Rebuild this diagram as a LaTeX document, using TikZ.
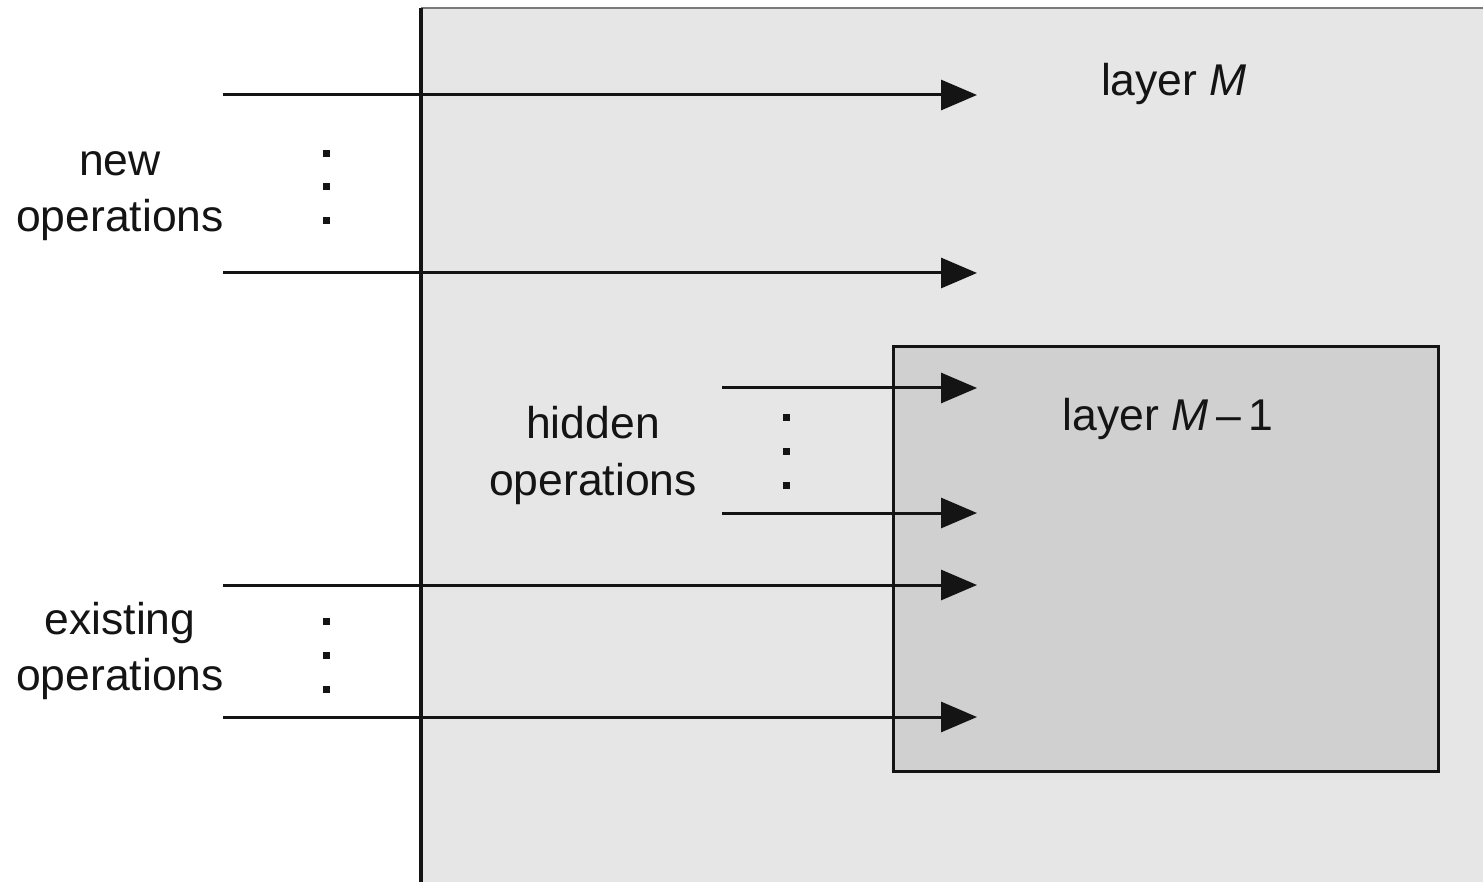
\documentclass[tikz,border=0pt]{standalone}
\usepackage{fontspec}
\setmainfont{Liberation Sans}
\usetikzlibrary{arrows.meta}
\definecolor{outerfill}{HTML}{E6E6E6}
\definecolor{innerfill}{HTML}{D0D0D0}
\definecolor{edgegray}{HTML}{7A7A7A}
\definecolor{ink}{HTML}{141414}
\begin{document}
\begin{tikzpicture}[x=1pt,y=-1pt,
  txt/.style={font=\fontsize{44.5}{56}\selectfont, anchor=base, inner sep=0pt, text=ink},
  oparrow/.style={draw=ink, line width=3pt, -{Triangle[length=36pt,width=30pt]}},
  sqdot/.style={fill=ink}]
\useasboundingbox (0,0) rectangle (1483,882);

% layer M: the outer region
\fill[outerfill] (421,8) rectangle (1483,882);
\draw[edgegray, line width=2.5pt] (421,8) -- (1483,8);
\draw[ink, line width=4pt] (421,8) -- (421,882);

% layer M-1: the inner box
\node[draw=ink, line width=3pt, fill=innerfill, inner sep=0pt,
      minimum width=545pt, minimum height=425pt, anchor=north west] (lower) at (892,345) {};

% labels
\node[txt] (newA) at (120,176) {new};
\node[txt] (newB) at (120,232) {operations};
\node[txt] (hidA) at (593,438) {hidden};
\node[txt] (hidB) at (593,495) {operations};
\node[txt] (exA)  at (120,634) {existing};
\node[txt] (exB)  at (120,690) {operations};
\node[txt] (topL) at (1174,96) {layer \textit{M}};
\node[txt] (lowL) at (1168,430) {layer \textit{M}\,–\,1};

% arrow end points
\coordinate (n1s) at (223,95);  \coordinate (n1e) at (977,95);
\coordinate (n2s) at (223,273); \coordinate (n2e) at (977,273);
\coordinate (h1s) at (722,388); \coordinate (h1e) at (977,388);
\coordinate (h2s) at (722,513); \coordinate (h2e) at (977,513);
\coordinate (e1s) at (223,585); \coordinate (e1e) at (977,585);
\coordinate (e2s) at (223,717); \coordinate (e2e) at (977,717);

\draw[oparrow] (n1s) -- (n1e);
\draw[oparrow] (n2s) -- (n2e);
\draw[oparrow] (h1s) -- (h1e);
\draw[oparrow] (h2s) -- (h2e);
\draw[oparrow] (e1s) -- (e1e);
\draw[oparrow] (e2s) -- (e2e);

% vertical ellipses
\foreach \x/\y in {326/154, 326/187, 326/221,
                   786/417, 786/451, 786/485,
                   326/621, 326/655, 326/689}
  \fill[sqdot] (\x-3.5,\y-3.5) rectangle (\x+3.5,\y+3.5);
\end{tikzpicture}
\end{document}
